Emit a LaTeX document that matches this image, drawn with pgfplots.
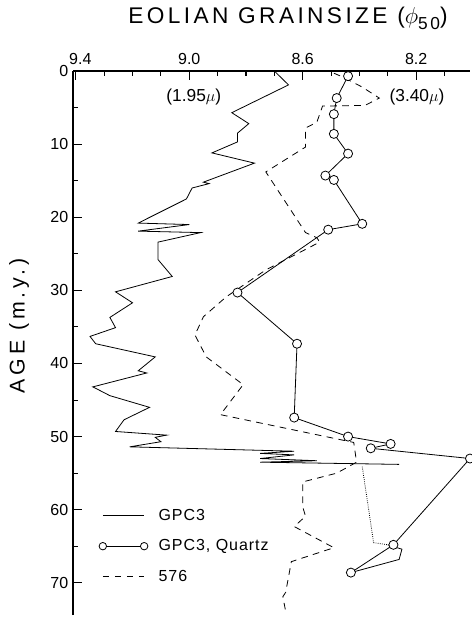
\documentclass[border=0pt]{standalone}
\usepackage{fontspec}
\setmainfont{Liberation Sans}
\usepackage{pgfplots}
\pgfplotsset{compat=1.18}
\usepackage{pgfplotstable}

% GPC3 bulk eolian grain size
\pgfplotstableread{
age phi
0.0 8.70
1.9 8.65
5.7 8.85
7.2 8.79
8.5 8.83
9.7 8.83
11.2 8.92
12.6 8.77
15.2 8.95
15.4 8.93
16.0 8.99
17.5 9.01
20.8 9.18
21.0 9.00
21.9 9.18
22.1 8.96
23.4 9.11
25.8 9.11
28.1 9.06
30.2 9.26
31.7 9.20
33.7 9.28
35.1 9.26
36.3 9.35
37.3 9.33
39.1 9.12
41.0 9.18
41.3 9.15
43.2 9.34
44.4 9.28
46.0 9.14
47.7 9.23
49.3 9.26
49.8 9.08
50.1 9.12
50.7 9.10
51.4 9.21
52.0 8.63
52.3 8.75
52.5 8.63
53.0 8.75
53.3 8.55
53.5 8.75
53.8 8.26
}\gpc

% GPC3 gap (dotted) and lowest part
\pgfplotstableread{
age phi
54.1 8.39
64.5 8.35
64.8 8.30
}\gpcgap
\pgfplotstableread{
age phi
64.8 8.30
65.4 8.25
66.8 8.26
68.6 8.43
}\gpclow

% GPC3 quartz
\pgfplotstableread{
age phi
0.7 8.44
3.7 8.48
5.9 8.49
8.6 8.49
11.3 8.44
14.3 8.52
14.9 8.49
20.9 8.39
21.7 8.51
30.3 8.83
37.3 8.62
47.4 8.63
50.0 8.44
51.0 8.29
51.6 8.36
53.0 8.01
64.8 8.28
68.6 8.43
}\quartz

% Site 576
\pgfplotstableread{
age phi
0.3 8.49
0.8 8.46
2.2 8.39
3.7 8.33
4.7 8.38
4.8 8.53
7.0 8.55
7.8 8.59
10.4 8.59
13.8 8.73
22.1 8.59
22.8 8.55
23.4 8.54
25.4 8.64
27.2 8.73
30.9 8.87
33.6 8.95
36.1 8.98
39.1 8.94
42.9 8.81
47.0 8.89
50.8 8.42
53.5 8.41
55.0 8.48
56.2 8.60
59.6 8.60
60.9 8.59
62.3 8.63
65.2 8.49
67.1 8.64
71.3 8.66
71.9 8.67
73.9 8.66
}\site

\begin{document}
\begin{tikzpicture}
\useasboundingbox (-54.75pt,53.25pt) rectangle (299.25pt,-411pt);
\begin{axis}[
  at={(0pt,0pt)}, anchor=north west,
  scale only axis, width=297.75pt, height=408pt,
  xmin=-9.41, xmax=-8.01, ymin=-74.4, ymax=0,
  axis x line*=top, axis y line*=left,
  axis line style={line width=0.9pt},
  xtick={-9.4,-9.0,-8.6,-8.2}, xticklabels={\hphantom{0}9.4,9.0,8.6,8.2},
  minor xtick={-9.3,-9.2,-9.1,-8.9,-8.8,-8.7,-8.5,-8.4,-8.3,-8.1},
  ytick={-70,-60,-50,-40,-30,-20,-10,0},
  yticklabels={70,60,50,40,30,20,10,0},
  minor ytick={-65,-55,-45,-35,-25,-15,-5},
  tick align=inside,
  major tick length=7pt, minor tick length=4pt,
  every tick/.style={line width=0.8pt, black},
  ticklabel style={font=\fontsize{12}{14}\selectfont},
  xticklabel style={yshift=1pt},
  clip=false,
  legend style={draw=none, fill=none, at={(axis description cs:0.055,0.205)},
    anchor=north west, font=\fontsize{12}{14}\selectfont\addfontfeatures{LetterSpace=6},
    row sep=9pt, /tikz/every odd column/.append style={column sep=6pt}},
  legend cell align=left,
  legend image code/.code={\draw[#1] plot coordinates {(0pt,0pt) (31pt,0pt)};},
]
\addplot[black, line width=0.6pt, dash pattern=on 5pt off 4pt, forget plot]
  table[x expr=-\thisrow{phi}, y expr=-\thisrow{age}] {\site};
\addplot[black, line width=0.6pt, forget plot]
  table[x expr=-\thisrow{phi}, y expr=-\thisrow{age}] {\gpc};
\addplot[black, line width=0.6pt, densely dotted, forget plot]
  table[x expr=-\thisrow{phi}, y expr=-\thisrow{age}] {\gpcgap};
\addplot[black, line width=0.6pt, forget plot]
  table[x expr=-\thisrow{phi}, y expr=-\thisrow{age}] {\gpclow};
\addplot[black, line width=0.6pt, mark=*, mark size=3.4pt,
  mark options={fill=white, draw=black, solid}, forget plot]
  table[x expr=-\thisrow{phi}, y expr=-\thisrow{age}] {\quartz};

\addlegendimage{black, line width=0.6pt}
\addlegendentry{GPC3}
\addlegendimage{black, line width=0.6pt, mark=*, mark size=2.8pt, mark options={fill=white, draw=black}}
\addlegendentry{GPC3, Quartz}
\addlegendimage{black, line width=0.6pt, dash pattern=on 5pt off 4pt}
\addlegendentry{576}

\node[font=\fontsize{13}{15}\selectfont] at (axis cs:-8.984,-3.55) {(1.95$\mu$)};
\node[font=\fontsize{13}{15}\selectfont] at (axis cs:-8.197,-3.55) {(3.40$\mu$)};
\end{axis}
\node[font=\fontsize{17}{20}\selectfont\addfontfeatures{LetterSpace=15}] at (161.25pt,39.75pt)
  {EOLIAN GRAINSIZE ($\phi$\raisebox{-0.5ex}{\fontsize{13}{15}\selectfont 50})};
\node[rotate=90, font=\fontsize{16}{19}\selectfont\addfontfeatures{LetterSpace=18}] at (-40.5pt,-191.25pt)
  {AGE (m.y.)};
\end{tikzpicture}
\end{document}
